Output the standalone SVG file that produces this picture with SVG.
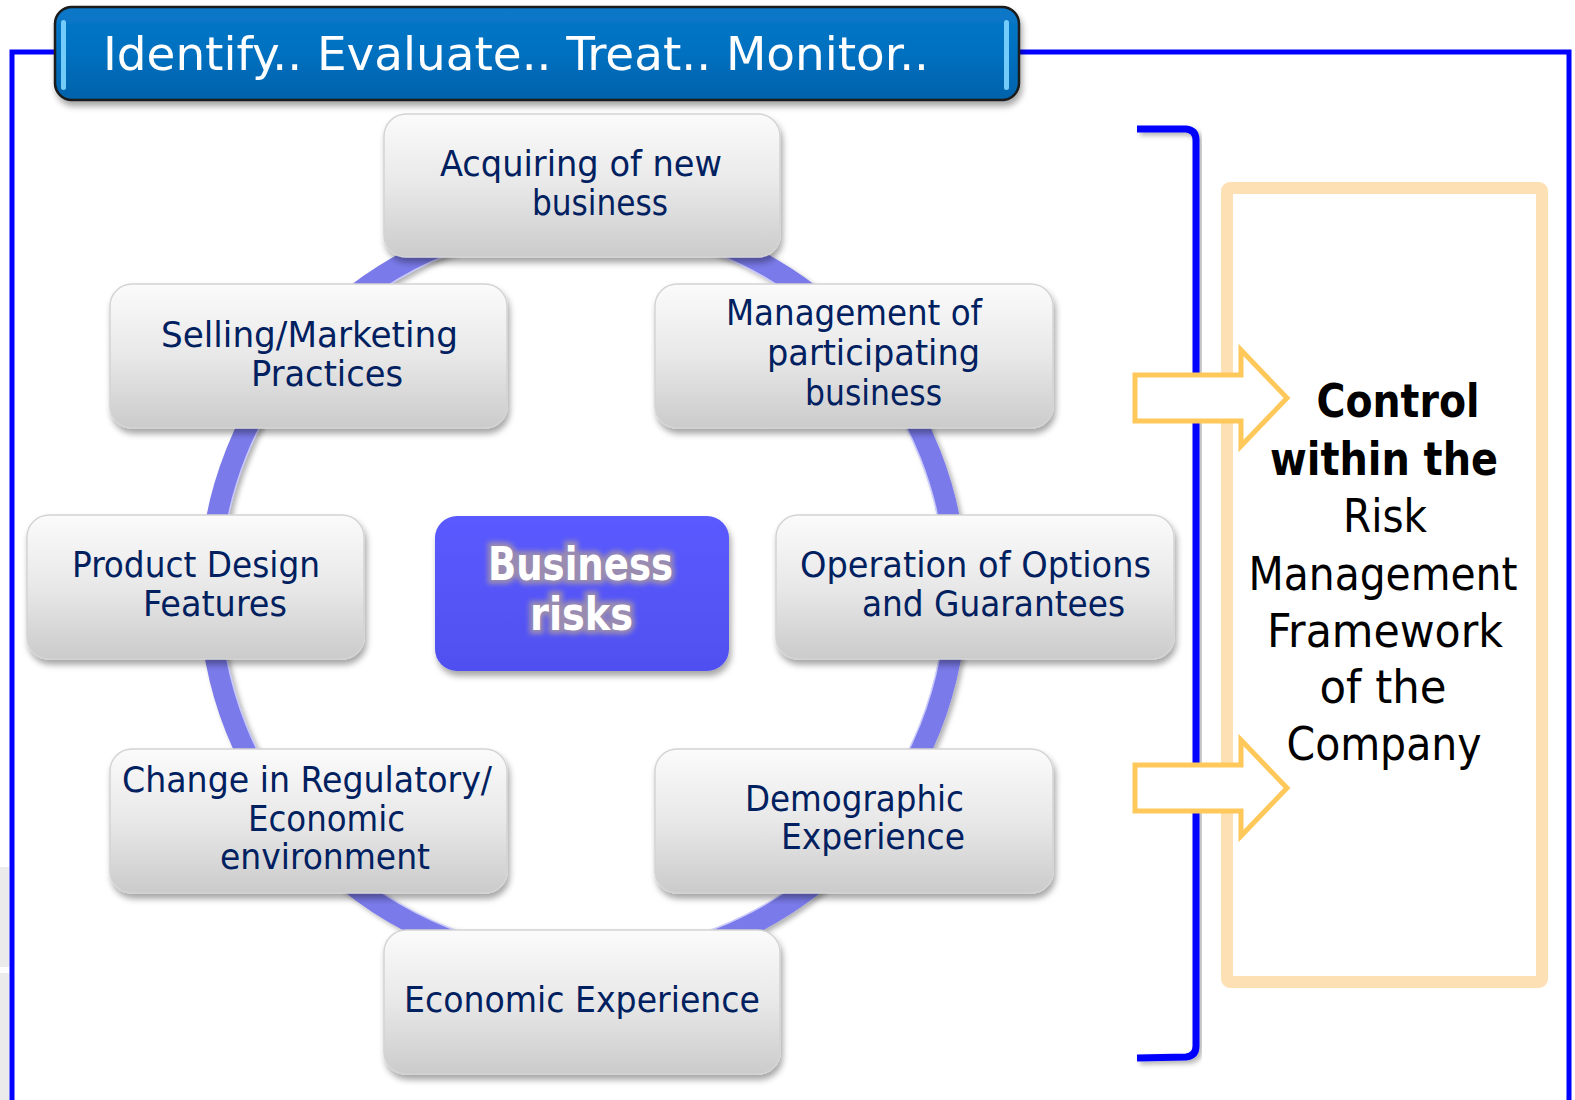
<svg xmlns="http://www.w3.org/2000/svg" width="1575" height="1100" viewBox="0 0 1575 1100">
<defs>
  <linearGradient id="nodeGrad" x1="0" y1="0" x2="0" y2="1">
    <stop offset="0" stop-color="#fbfbfb"/>
    <stop offset="0.5" stop-color="#e8e8e8"/>
    <stop offset="1" stop-color="#cbcbcb"/>
  </linearGradient>
  <linearGradient id="hdrGrad" x1="0" y1="0" x2="0" y2="1">
    <stop offset="0" stop-color="#0a78c8"/>
    <stop offset="0.5" stop-color="#0070c0"/>
    <stop offset="1" stop-color="#0062aa"/>
  </linearGradient>
  <linearGradient id="ctrGrad" x1="0" y1="0" x2="0" y2="1">
    <stop offset="0" stop-color="#5a5aff"/>
    <stop offset="1" stop-color="#5050f0"/>
  </linearGradient>
  <filter id="shadow" x="-10%" y="-10%" width="120%" height="130%">
    <feDropShadow dx="2" dy="5" stdDeviation="3" flood-color="#000" flood-opacity="0.35"/>
  </filter>
  <filter id="ringShadow" x="-10%" y="-10%" width="120%" height="120%">
    <feDropShadow dx="3" dy="3" stdDeviation="2.5" flood-color="#000" flood-opacity="0.3"/>
  </filter>
  <filter id="glow" x="-20%" y="-30%" width="140%" height="160%">
    <feGaussianBlur stdDeviation="2.5"/>
  </filter>
  <style>
    .node { fill: url(#nodeGrad); stroke: #d4d4d4; stroke-width: 1.5; filter: url(#shadow); }
    .lbl { font-family: "DejaVu Sans Condensed", "DejaVu Sans", sans-serif; font-size: 35px; fill: #002060; }
    .ctr { font-family: "DejaVu Sans Condensed", "DejaVu Sans", sans-serif; font-size: 46px; font-weight: bold; }
    .side { font-family: "DejaVu Sans Condensed", "DejaVu Sans", sans-serif; font-size: 47px; fill: #000; text-anchor: middle; }
    .frame { fill: none; stroke: #0000ff; stroke-width: 5; }
    .arrow { fill: #ffffff; stroke: #ffc85a; stroke-width: 5; }
  </style>
</defs>

<rect x="0" y="0" width="1575" height="1100" fill="#ffffff"/>
<rect x="0" y="867" width="9" height="100" fill="#ebebeb"/>
<rect x="0" y="973" width="9" height="127" fill="#ebebeb"/>

<g id="frame">
  <polyline class="frame" points="12,1100 12,52 56,52"/>
  <polyline class="frame" points="1018,52 1569,52 1569,1100"/>
</g>

<g id="connectors">
  <circle cx="583" cy="591" r="373" fill="none" stroke="#7a7aea" stroke-width="22" filter="url(#ringShadow)"/>
  <circle cx="583" cy="591" r="362.5" fill="none" stroke="#dcdcff" stroke-width="1.5" opacity="0.8"/>
  <path d="M1137,129 L1186,129 Q1196,130 1196,140 L1196,1046 Q1196,1056 1186,1057 L1137,1058" fill="none" stroke="#0000ff" stroke-width="7" filter="url(#ringShadow)"/>
</g>

<g id="header">
  <rect x="55" y="7" width="964" height="93" rx="17" fill="url(#hdrGrad)" stroke="#1a1a1a" stroke-width="2.5" filter="url(#shadow)"/>
  <rect x="61" y="20" width="5" height="70" rx="2.5" fill="#7fd6ff" opacity="0.9"/>
  <rect x="1004" y="20" width="5" height="70" rx="2.5" fill="#7fd6ff" opacity="0.9"/>
  <text x="103" y="70" font-family="DejaVu Sans Condensed, DejaVu Sans, sans-serif" font-size="47" fill="#ffffff" textLength="826" lengthAdjust="spacingAndGlyphs">Identify.. Evaluate.. Treat.. Monitor..</text>
</g>

<g id="n1">
  <rect class="node" x="384" y="114" width="396" height="143" rx="22"/>
  <text class="lbl" x="440" y="176" textLength="282" lengthAdjust="spacingAndGlyphs">Acquiring of new</text>
  <text class="lbl" x="532" y="215" textLength="136" lengthAdjust="spacingAndGlyphs">business</text>
</g>
<g id="n2">
  <rect class="node" x="110" y="284" width="397" height="144" rx="22"/>
  <text class="lbl" x="161" y="347" textLength="297" lengthAdjust="spacingAndGlyphs">Selling/Marketing</text>
  <text class="lbl" x="251" y="386" textLength="152" lengthAdjust="spacingAndGlyphs">Practices</text>
</g>
<g id="n3">
  <rect class="node" x="655" y="284" width="398" height="144" rx="22"/>
  <text class="lbl" x="726" y="325" textLength="256" lengthAdjust="spacingAndGlyphs">Management of</text>
  <text class="lbl" x="767" y="365" textLength="213" lengthAdjust="spacingAndGlyphs">participating</text>
  <text class="lbl" x="805" y="405" textLength="137" lengthAdjust="spacingAndGlyphs">business</text>
</g>
<g id="n4">
  <rect class="node" x="27" y="515" width="337" height="144" rx="22"/>
  <text class="lbl" x="72" y="577" textLength="248" lengthAdjust="spacingAndGlyphs">Product Design</text>
  <text class="lbl" x="143" y="616" textLength="144" lengthAdjust="spacingAndGlyphs">Features</text>
</g>
<g id="n5">
  <rect x="435" y="516" width="294" height="155" rx="22" fill="url(#ctrGrad)" filter="url(#shadow)"/>
  <g filter="url(#glow)">
    <text class="ctr" x="488" y="580" fill="#9a8cb0" stroke="#9a8cb0" stroke-width="8" textLength="185" lengthAdjust="spacingAndGlyphs">Business</text>
    <text class="ctr" x="530" y="630" fill="#9a8cb0" stroke="#9a8cb0" stroke-width="8" textLength="103" lengthAdjust="spacingAndGlyphs">risks</text>
  </g>
  <text class="ctr" x="488" y="580" fill="#ffffff" textLength="185" lengthAdjust="spacingAndGlyphs">Business</text>
  <text class="ctr" x="530" y="630" fill="#ffffff" textLength="103" lengthAdjust="spacingAndGlyphs">risks</text>
</g>
<g id="n6">
  <rect class="node" x="776" y="515" width="398" height="144" rx="22"/>
  <text class="lbl" x="800" y="577" textLength="351" lengthAdjust="spacingAndGlyphs">Operation of Options</text>
  <text class="lbl" x="862" y="616" textLength="263" lengthAdjust="spacingAndGlyphs">and Guarantees</text>
</g>
<g id="n7">
  <rect class="node" x="110" y="749" width="397" height="144" rx="22"/>
  <text class="lbl" x="122" y="792" textLength="370" lengthAdjust="spacingAndGlyphs">Change in Regulatory/</text>
  <text class="lbl" x="248" y="831" textLength="157" lengthAdjust="spacingAndGlyphs">Economic</text>
  <text class="lbl" x="220" y="869" textLength="210" lengthAdjust="spacingAndGlyphs">environment</text>
</g>
<g id="n8">
  <rect class="node" x="655" y="749" width="398" height="144" rx="22"/>
  <text class="lbl" x="745" y="811" textLength="219" lengthAdjust="spacingAndGlyphs">Demographic</text>
  <text class="lbl" x="781" y="849" textLength="184" lengthAdjust="spacingAndGlyphs">Experience</text>
</g>
<g id="n9">
  <rect class="node" x="384" y="930" width="396" height="144" rx="22"/>
  <text class="lbl" x="404" y="1012" textLength="356" lengthAdjust="spacingAndGlyphs">Economic Experience</text>
</g>

<g id="control">
  <rect x="1227" y="188" width="315" height="794" rx="3" fill="none" stroke="#fde0b4" stroke-width="12"/>
  <text class="side" x="1398" y="417" font-weight="bold" textLength="163" lengthAdjust="spacingAndGlyphs">Control</text>
  <text class="side" x="1384" y="475" font-weight="bold" textLength="228" lengthAdjust="spacingAndGlyphs">within the</text>
  <text class="side" x="1385" y="532" textLength="84" lengthAdjust="spacingAndGlyphs">Risk</text>
  <text class="side" x="1383" y="590" textLength="269" lengthAdjust="spacingAndGlyphs">Management</text>
  <text class="side" x="1385" y="647" textLength="236" lengthAdjust="spacingAndGlyphs">Framework</text>
  <text class="side" x="1383" y="703" textLength="127" lengthAdjust="spacingAndGlyphs">of the</text>
  <text class="side" x="1384" y="760" textLength="195" lengthAdjust="spacingAndGlyphs">Company</text>
</g>

<g id="arrow1">
  <polygon class="arrow" points="1135,375 1241,375 1241,350 1287,398 1241,446 1241,421 1135,421"/>
</g>
<g id="arrow2">
  <polygon class="arrow" points="1135,765 1241,765 1241,740 1287,788 1241,836 1241,811 1135,811"/>
</g>
</svg>
